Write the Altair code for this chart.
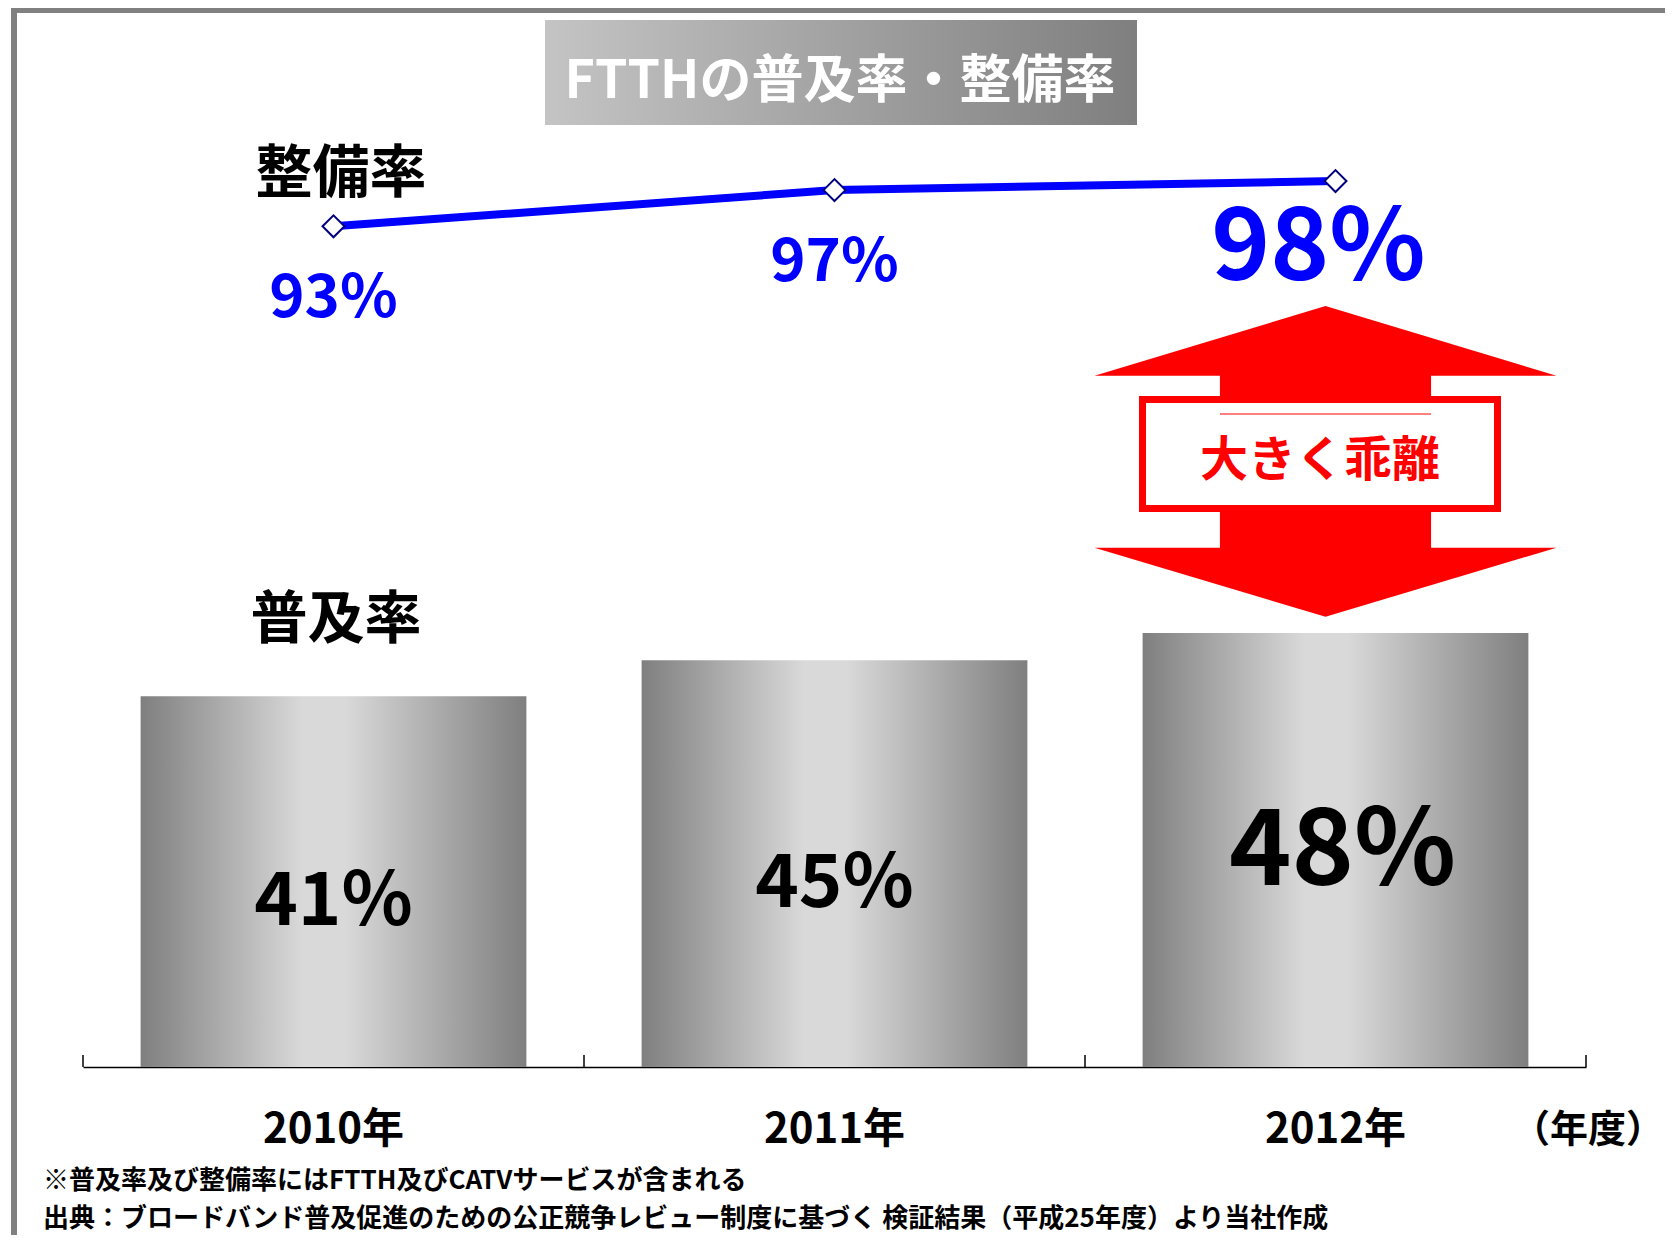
import altair as alt
import pandas as pd

# ---------------- data ----------------
years = ["2010年", "2011年", "2012年"]
penetration = [41, 45, 48]          # 普及率 (%)
coverage = [93, 97, 98]             # 整備率 (%)
pen_labels = ["41%", "45%", "48%"]
cov_labels = ["93%", "97%", "98%"]
highlight = [False, False, True]

title_text = "FTTHの普及率・整備率"
line_name = "整備率"
bar_name = "普及率"
gap_text = "大きく乖離"
unit_text = "（年度）"
note1 = "※普及率及び整備率にはFTTH及びCATVサービスが含まれる"
note2 = "出典：ブロードバンド普及促進のための公正競争レビュー制度に基づく 検証結果（平成25年度）より当社作成"

df = pd.DataFrame({
    "year": years, "penetration": penetration, "coverage": coverage,
    "pen_label": pen_labels, "cov_label": cov_labels, "hl": highlight,
})
one = pd.DataFrame({"k": [0]})

# ---------------- layout ----------------
W, H = 1503, 904
PAD = {"left": 75, "top": 155, "right": 79, "bottom": 168}
OX, OY = 8 + PAD["left"], 8 + PAD["top"]


def px(x):
    return x - OX


def py(y):
    return y - OY


FONT = "Noto Sans CJK JP"

xscale = alt.Scale(domain=years, paddingInner=0.23, paddingOuter=0.115)
yscale = alt.Scale(domain=[0, 100])
xaxis = alt.Axis(title=None, labelAngle=0, labelFont=FONT, labelFontSize=42,
                 labelFontWeight="bold", labelColor="black", labelPadding=42,
                 ticks=False, domainColor="black", domainWidth=1.5,
                 grid=False)
X = alt.X("year:N", scale=xscale, axis=xaxis)

base = alt.Chart(df)

bar_grad = alt.Gradient(
    gradient="linear", x1=0, x2=1, y1=0, y2=0,
    stops=[alt.GradientStop(offset=0, color="#7f7f7f"),
           alt.GradientStop(offset=0.42, color="#d9d9d9"),
           alt.GradientStop(offset=0.53, color="#d9d9d9"),
           alt.GradientStop(offset=1, color="#7f7f7f")])

bars = base.mark_bar(color=bar_grad).encode(
    x=X, y=alt.Y("penetration:Q", scale=yscale, axis=None))

bar_lab = base.transform_filter("!datum.hl").transform_calculate(
    mid="datum.penetration / 2").mark_text(
    font=FONT, fontWeight="bold", fontSize=74, color="black",
    baseline="alphabetic", dy=43).encode(
    x=X, y=alt.Y("mid:Q", scale=yscale, axis=None), text="pen_label:N")

bar_lab_hl = base.transform_filter("datum.hl").transform_calculate(
    mid="datum.penetration / 2").mark_text(
    font=FONT, fontWeight="bold", fontSize=106, color="black",
    baseline="alphabetic", dy=35, dx=7).encode(
    x=X, y=alt.Y("mid:Q", scale=yscale, axis=None), text="pen_label:N")

line = base.mark_line(color="#0000ff", strokeWidth=8).encode(
    x=X, y=alt.Y("coverage:Q", scale=yscale, axis=None))

pts = base.mark_point(shape="diamond", filled=True, fill="white",
                      stroke="#000080", strokeWidth=2, size=480,
                      opacity=1).encode(
    x=X, y=alt.Y("coverage:Q", scale=yscale, axis=None))

line_lab = base.transform_filter("!datum.hl").mark_text(
    font=FONT, fontWeight="bold", fontSize=60, color="#0000ff",
    baseline="alphabetic", dy=91).encode(
    x=X, y=alt.Y("coverage:Q", scale=yscale, axis=None), text="cov_label:N")

line_lab_hl = base.transform_filter("datum.hl").mark_text(
    font=FONT, fontWeight="bold", fontSize=100, color="#0000ff",
    baseline="alphabetic", dy=99, dx=-17).encode(
    x=X, y=alt.Y("coverage:Q", scale=yscale, axis=None), text="cov_label:N")

# ---------------- decorations ----------------
deco = alt.Chart(one)


def vrule(xp, y1p, y2p, color, sw):
    return deco.mark_rule(color=color, strokeWidth=sw).encode(
        x=alt.value(px(xp)), y=alt.value(py(y1p)), y2=alt.value(py(y2p)))


tick_layers = [vrule(xp, 1055, 1067, "black", 1.5)
               for xp in (OX, OX + W / 3, OX + 2 * W / 3, OX + W)]

frame_top = deco.mark_rect(color="#808080").encode(
    x=alt.value(px(11)), x2=alt.value(px(1665)),
    y=alt.value(py(8)), y2=alt.value(py(13)))
frame_left = deco.mark_rect(color="#808080").encode(
    x=alt.value(px(11)), x2=alt.value(px(17)),
    y=alt.value(py(8)), y2=alt.value(py(1235)))

title_grad = alt.Gradient(
    gradient="linear", x1=0, x2=1, y1=0, y2=0,
    stops=[alt.GradientStop(offset=0, color="#c4c4c4"),
           alt.GradientStop(offset=1, color="#7f7f7f")])
title_box = deco.mark_rect(color=title_grad).encode(
    x=alt.value(px(545)), x2=alt.value(px(1137)),
    y=alt.value(py(20)), y2=alt.value(py(125)))
title = deco.mark_text(text=title_text, font=FONT, fontWeight="bold",
                       fontSize=52, color="white", align="center",
                       baseline="alphabetic").encode(
    x=alt.value(px(840)), y=alt.value(py(98)))

lab_line = deco.mark_text(text=line_name, font=FONT, fontWeight="bold",
                          fontSize=57, color="black", align="center",
                          baseline="alphabetic").encode(
    x=alt.value(px(341)), y=alt.value(py(192)))
lab_bar = deco.mark_text(text=bar_name, font=FONT, fontWeight="bold",
                         fontSize=57, color="black", align="center",
                         baseline="alphabetic").encode(
    x=alt.value(px(336)), y=alt.value(py(638)))

arrow_path = ("M0,-0.673L1,-0.371L0.457,-0.371L0.457,0.373L1,0.373L0,0.672"
              "L-1,0.373L-0.457,0.373L-0.457,-0.371L-1,-0.371Z")
arrow = deco.mark_point(shape=arrow_path, filled=True, color="#ff0000",
                        size=462 * 462, opacity=1).encode(
    x=alt.value(px(1325.5)), y=alt.value(py(461.5)))
gap_box = deco.mark_rect(fill="white", stroke="#ff0000", strokeWidth=7).encode(
    x=alt.value(px(1142.5)), x2=alt.value(px(1497.5)),
    y=alt.value(py(399.5)), y2=alt.value(py(508.5)))
gap_rule = deco.mark_rule(color="#ff0000", strokeWidth=1).encode(
    x=alt.value(px(1220)), x2=alt.value(px(1431)),
    y=alt.value(py(414)))
gap_lab = deco.mark_text(text=gap_text, font=FONT, fontWeight="bold",
                         fontSize=48, color="#ff0000", align="center",
                         baseline="alphabetic").encode(
    x=alt.value(px(1320)), y=alt.value(py(476)))

unit = deco.mark_text(text=unit_text, font=FONT, fontWeight="bold",
                      fontSize=38, color="black", align="center",
                      baseline="alphabetic").encode(
    x=alt.value(px(1588)), y=alt.value(py(1142)))

notes = deco.mark_text(text=[note1, note2], font=FONT, fontWeight="bold",
                       fontSize=26, lineHeight=38, color="black",
                       align="left", baseline="alphabetic").encode(
    x=alt.value(px(43)), y=alt.value(py(1189)))

chart = alt.layer(
    bars, bar_lab, bar_lab_hl,
    line, pts, line_lab, line_lab_hl,
    frame_top, frame_left, title_box, title,
    *tick_layers,
    lab_line, lab_bar,
    arrow, gap_box, gap_rule, gap_lab,
    unit, notes,
).properties(
    width=W, height=H, padding=PAD,
    autosize=alt.AutoSizeParams(type="none"),
    background="white",
).configure_view(strokeWidth=0)

chart.save("out.html", embed_options={"renderer": "svg", "actions": False})
